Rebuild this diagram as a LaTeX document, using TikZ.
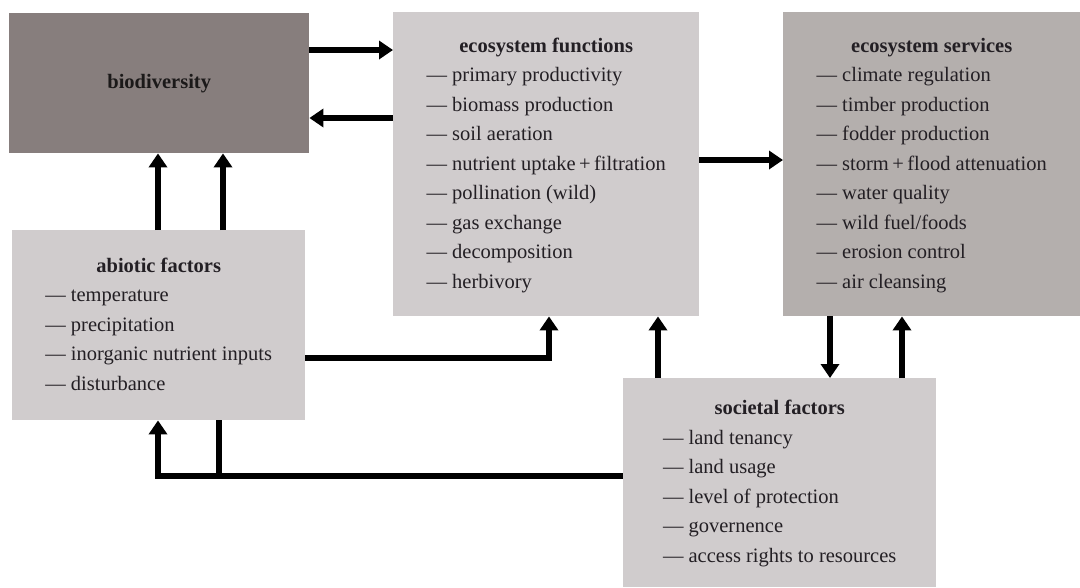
\documentclass[tikz,border=0pt]{standalone}
\usepackage{fontspec}
\setmainfont{Liberation Serif}
\usepackage{tikz}
\usetikzlibrary{arrows.meta,positioning}
\usetikzlibrary{calc}

\definecolor{biocol}{HTML}{877E7D}
\definecolor{boxcol}{HTML}{D0CCCD}
\definecolor{servcol}{HTML}{B4AFAD}
\definecolor{txtcol}{HTML}{231F24}

\tikzset{
  box/.style={rectangle, anchor=north west, inner sep=0pt, fill=boxcol,
    text=txtcol, font=\fontsize{20.5}{29.5}\selectfont},
  flow/.style={line width=6.5pt, -{Triangle[length=14pt,width=18pt]}},
  link/.style={line width=6.5pt}
}

\begin{document}
\begin{tikzpicture}[x=1pt,y=-1pt]
\useasboundingbox (0,0) rectangle (1080,587);
% boxes
\node[box, fill=biocol, text=black!80!biocol, minimum width=300pt, minimum height=140pt] (bio) at (9,13) {\textbf{biodiversity}};
\node[box, minimum width=306pt, minimum height=304pt] (func) at (393,12) {%
\begin{tabular}{@{}l@{}}
\multicolumn{1}{@{}c@{}}{\textbf{ecosystem functions}}\\
--- primary productivity\\
--- biomass production\\
--- soil aeration\\
--- nutrient uptake\,+\,filtration\\
--- pollination (wild)\\
--- gas exchange\\
--- decomposition\\
--- herbivory
\end{tabular}};
\node[box, fill=servcol, minimum width=297pt, minimum height=304pt] (serv) at (783,12) {%
\begin{tabular}{@{}l@{}}
\multicolumn{1}{@{}c@{}}{\textbf{ecosystem services}}\\
--- climate regulation\\
--- timber production\\
--- fodder production\\
--- storm\,+\,flood attenuation\\
--- water quality\\
--- wild fuel/foods\\
--- erosion control\\
--- air cleansing
\end{tabular}};
\node[box, minimum width=293pt, minimum height=190pt] (abio) at (12,230) {%
\begin{tabular}{@{}l@{}}
\multicolumn{1}{@{}c@{}}{\textbf{abiotic factors}}\\
--- temperature\\
--- precipitation\\
--- inorganic nutrient inputs\\
--- disturbance
\end{tabular}};
\node[box, minimum width=313pt, minimum height=209pt] (soc) at (623,378) {%
\begin{tabular}{@{}l@{}}
\multicolumn{1}{@{}c@{}}{\textbf{societal factors}}\\
--- land tenancy\\
--- land usage\\
--- level of protection\\
--- governence\\
--- access rights to resources
\end{tabular}};
% connectors
\draw[flow] (bio.east |- 0,50) -- (func.west |- 0,50);
\draw[flow] (func.west |- 0,118) -- (bio.east |- 0,118);
\draw[flow] (abio.north -| 158,0) -- (bio.south -| 158,0);
\draw[flow] (abio.north -| 223,0) -- (bio.south -| 223,0);
\draw[flow] (abio.east |- 0,358) -| (func.south -| 549,0);
\draw[flow] (func.east |- 0,160) -- (serv.west |- 0,160);
\draw[flow] (serv.south -| 830,0) -- (soc.north -| 830,0);
\draw[flow] (soc.north -| 902,0) -- (serv.south -| 902,0);
\draw[flow] (soc.north -| 658,0) -- (func.south -| 658,0);
\draw[flow] (soc.west |- 0,476) -| (abio.south -| 158,0);
\coordinate (junc) at (219,476);
\draw[link] (abio.south -| junc) -- (junc);
\end{tikzpicture}
\end{document}
